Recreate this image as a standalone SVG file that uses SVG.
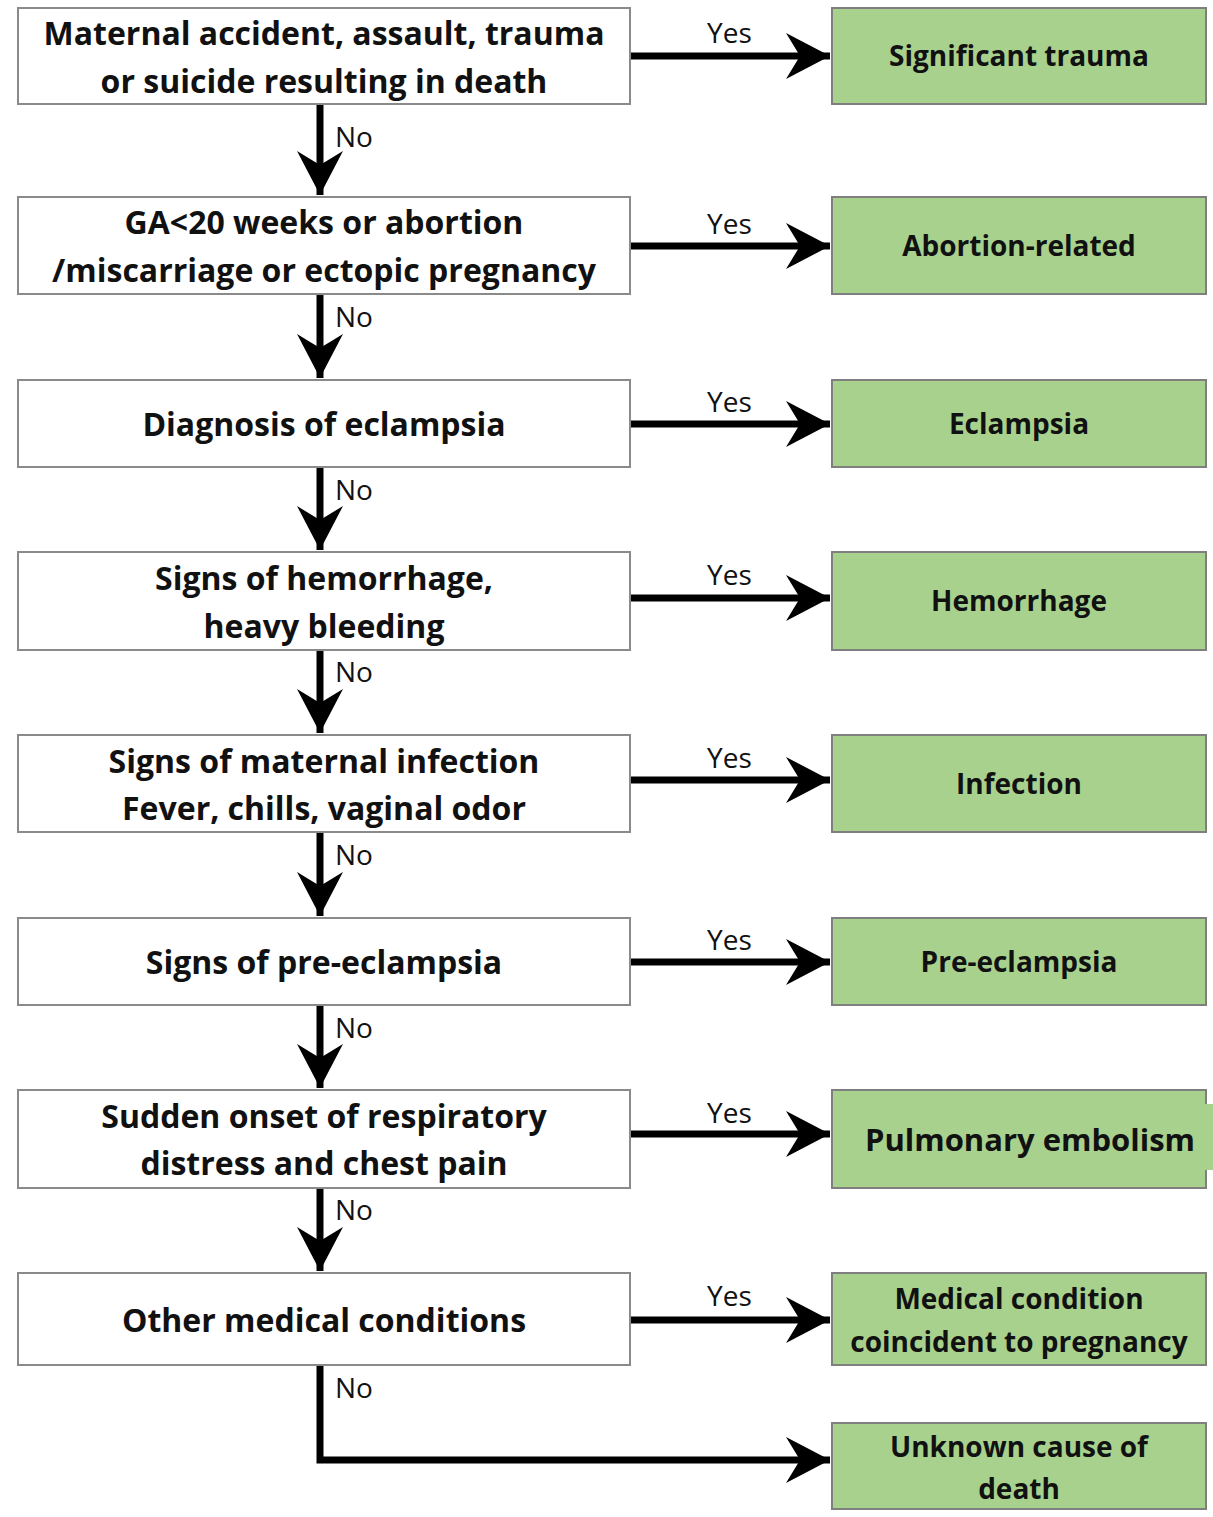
<svg xmlns="http://www.w3.org/2000/svg" width="1213" height="1517" viewBox="0 0 1213 1517">
<defs>
<style>
.q{fill:#fff;stroke:#8a8a8a;stroke-width:2}
.r{fill:#a9d18e;stroke:#7f7f7f;stroke-width:2}
.t{font-family:"Open Sans","Liberation Sans",sans-serif;font-weight:bold;font-size:32px;fill:#111;text-anchor:middle}
.s{font-family:"Open Sans","Liberation Sans",sans-serif;font-weight:bold;font-size:28px;fill:#111;text-anchor:middle}
.p{font-family:"Open Sans","Liberation Sans",sans-serif;font-weight:bold;font-size:31px;fill:#111;text-anchor:middle}
.l{font-family:"Open Sans","Liberation Sans",sans-serif;font-size:28px;fill:#111}
.c{fill:none;stroke:#000;stroke-width:7}
</style>
<marker id="ah" markerUnits="userSpaceOnUse" markerWidth="50" markerHeight="50" viewBox="-46 -25 48 50" refX="0" refY="0" orient="auto">
<path d="M0,0 L-44,-23 L-30,0 L-44,23 Z" fill="#000"/>
</marker>
</defs>
<rect width="1213" height="1517" fill="#fff"/>

<g id="connectors">
<path class="c" d="M630,56 H830" marker-end="url(#ah)"/>
<path class="c" d="M630,246 H830" marker-end="url(#ah)"/>
<path class="c" d="M630,424 H830" marker-end="url(#ah)"/>
<path class="c" d="M630,598 H830" marker-end="url(#ah)"/>
<path class="c" d="M630,780 H830" marker-end="url(#ah)"/>
<path class="c" d="M630,962 H830" marker-end="url(#ah)"/>
<path class="c" d="M630,1134 H830" marker-end="url(#ah)"/>
<path class="c" d="M630,1320 H830" marker-end="url(#ah)"/>
<path class="c" d="M320,104 V195" marker-end="url(#ah)"/>
<path class="c" d="M320,294 V378" marker-end="url(#ah)"/>
<path class="c" d="M320,467 V550" marker-end="url(#ah)"/>
<path class="c" d="M320,650 V733" marker-end="url(#ah)"/>
<path class="c" d="M320,832 V916" marker-end="url(#ah)"/>
<path class="c" d="M320,1005 V1088" marker-end="url(#ah)"/>
<path class="c" d="M320,1188 V1271" marker-end="url(#ah)"/>
<path class="c" d="M320,1363 V1460 H830" marker-end="url(#ah)"/>
<g class="l">
<text x="707" y="43">Yes</text>
<text x="707" y="234">Yes</text>
<text x="707" y="412">Yes</text>
<text x="707" y="585">Yes</text>
<text x="707" y="768">Yes</text>
<text x="707" y="950">Yes</text>
<text x="707" y="1123">Yes</text>
<text x="707" y="1306">Yes</text>
<text x="335" y="147">No</text>
<text x="335" y="327">No</text>
<text x="335" y="500">No</text>
<text x="335" y="682">No</text>
<text x="335" y="865">No</text>
<text x="335" y="1038">No</text>
<text x="335" y="1220">No</text>
<text x="335" y="1398">No</text>
</g>
</g>

<g id="q1"><rect class="q" x="18" y="8" width="612" height="96"/><text class="t" x="324" y="45">Maternal accident, assault, trauma</text><text class="t" x="324" y="93">or suicide resulting in death</text></g>
<g id="q2"><rect class="q" x="18" y="197" width="612" height="97"/><text class="t" x="324" y="234">GA&lt;20 weeks or abortion</text><text class="t" x="324" y="282">/miscarriage or ectopic pregnancy</text></g>
<g id="q3"><rect class="q" x="18" y="380" width="612" height="87"/><text class="t" x="324" y="436">Diagnosis of eclampsia</text></g>
<g id="q4"><rect class="q" x="18" y="552" width="612" height="98"/><text class="t" x="324" y="590">Signs of hemorrhage,</text><text class="t" x="324" y="638">heavy bleeding</text></g>
<g id="q5"><rect class="q" x="18" y="735" width="612" height="97"/><text class="t" x="324" y="773">Signs of maternal infection</text><text class="t" x="324" y="820">Fever, chills, vaginal odor</text></g>
<g id="q6"><rect class="q" x="18" y="918" width="612" height="87"/><text class="t" x="324" y="974">Signs of pre-eclampsia</text></g>
<g id="q7"><rect class="q" x="18" y="1090" width="612" height="98"/><text class="t" x="324" y="1128">Sudden onset of respiratory</text><text class="t" x="324" y="1175">distress and chest pain</text></g>
<g id="q8"><rect class="q" x="18" y="1273" width="612" height="92"/><text class="t" x="324" y="1332">Other medical conditions</text></g>

<g id="r1"><rect class="r" x="832" y="8" width="374" height="96"/><text class="s" x="1019" y="66">Significant trauma</text></g>
<g id="r2"><rect class="r" x="832" y="197" width="374" height="97"/><text class="s" x="1019" y="256">Abortion-related</text></g>
<g id="r3"><rect class="r" x="832" y="380" width="374" height="87"/><text class="s" x="1019" y="434">Eclampsia</text></g>
<g id="r4"><rect class="r" x="832" y="552" width="374" height="98"/><text class="s" x="1019" y="611">Hemorrhage</text></g>
<g id="r5"><rect class="r" x="832" y="735" width="374" height="97"/><text class="s" x="1019" y="794">Infection</text></g>
<g id="r6"><rect class="r" x="832" y="918" width="374" height="87"/><text class="s" x="1019" y="972">Pre-eclampsia</text></g>
<g id="r7"><rect class="r" x="832" y="1090" width="374" height="98"/><rect x="1200" y="1104" width="13" height="66" fill="#a9d18e"/><text class="p" x="1030" y="1151">Pulmonary embolism</text></g>
<g id="r8"><rect class="r" x="832" y="1273" width="374" height="92"/><text class="s" x="1019" y="1309">Medical condition</text><text class="s" x="1019" y="1352">coincident to pregnancy</text></g>
<g id="r9"><rect class="r" x="832" y="1423" width="374" height="86"/><text class="s" x="1019" y="1457">Unknown cause of</text><text class="s" x="1019" y="1499">death</text></g>
</svg>
